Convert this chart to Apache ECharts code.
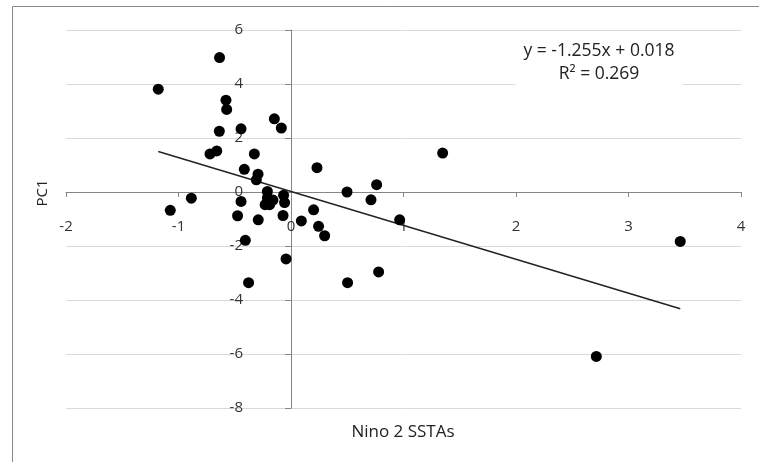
<!DOCTYPE html>
<html>
<head>
<meta charset="utf-8">
<script src="https://cdn.jsdelivr.net/npm/echarts@6/dist/echarts.min.js"></script>
<style>
  html, body { margin: 0; padding: 0; background: #fff; }
  #chart { width: 759px; height: 462px; }
</style>
</head>
<body>
<div id="chart"></div>
<script>
// Nino 2 SST anomalies against the first principal component
const ninoSSTA = [
  -1.18, -0.635, -0.578, -0.572, -0.148, -0.086, -0.444, -0.637, -0.72, -0.66,
  -0.326, -0.415, -0.293, -0.308, -0.886, -1.073, -0.444, -0.475, -0.291,
  -0.21, -0.21, -0.23, -0.19, -0.16,
  -0.066, -0.057, -0.071, -0.406, -0.044, -0.377,
  0.092, 0.201, 0.245, 0.299, 0.231, 0.498, 0.761, 0.711, 0.966, 1.348,
  0.779, 0.503, 3.46, 2.714
];
const pc1 = [
  3.81, 4.98, 3.40, 3.06, 2.71, 2.37, 2.34, 2.25, 1.41, 1.52,
  1.41, 0.84, 0.66, 0.45, -0.23, -0.68, -0.35, -0.88, -1.03,
  0.02, -0.22, -0.47, -0.47, -0.30,
  -0.12, -0.39, -0.87, -1.79, -2.48, -3.36,
  -1.07, -0.66, -1.27, -1.62, 0.90, 0.00, 0.27, -0.29, -1.03, 1.44,
  -2.96, -3.36, -1.83, -6.09
];

// Least-squares fit reported on the chart
const fitSlope = -1.255;
const fitIntercept = 0.018;
const fitR2 = 0.269;

const xTicks = [-2, 4, 1];   // min, max, interval
const yTicks = [-8, 6, 2];

const points = ninoSSTA.map((x, i) => [x, pc1[i]]);
const xLo = Math.min(...ninoSSTA);
const xHi = Math.max(...ninoSSTA);
const trend = [[xLo, fitSlope * xLo + fitIntercept], [xHi, fitSlope * xHi + fitIntercept]];

// plot box
const G = { left: 66, top: 30, width: 675, height: 378 };
// shift each axis from the plot edge to the zero line of the other axis
const xAxisOffset = -G.height * (0 - yTicks[0]) / (yTicks[1] - yTicks[0]);
const yAxisOffset = -G.width * (0 - xTicks[0]) / (xTicks[1] - xTicks[0]);

const font = '"Open Sans", "Noto Sans", sans-serif';
const chart = echarts.init(document.getElementById('chart'), null, { renderer: 'canvas' });

chart.setOption({
  backgroundColor: '#fff',
  animation: false,
  grid: Object.assign({ containLabel: false }, G),
  xAxis: {
    type: 'value',
    min: xTicks[0], max: xTicks[1], interval: xTicks[2],
    position: 'bottom',
    offset: xAxisOffset,
    axisLine: { onZero: false, lineStyle: { color: '#868686', width: 1 } },
    axisTick: { show: true, length: 5, inside: false, lineStyle: { color: '#868686' } },
    axisLabel: { margin: 27, color: '#333', fontSize: 15, fontFamily: font },
    splitLine: { show: false }
  },
  yAxis: {
    type: 'value',
    min: yTicks[0], max: yTicks[1], interval: yTicks[2],
    position: 'left',
    offset: yAxisOffset,
    axisLine: { onZero: false, lineStyle: { color: '#868686', width: 1 } },
    axisTick: { show: true, length: 6, lineStyle: { color: '#868686' } },
    axisLabel: { margin: 48, color: '#333', fontSize: 15, fontFamily: font },
    splitLine: { show: true, lineStyle: { color: '#d9d9d9', width: 1 } }
  },
  series: [
    {
      type: 'line',
      data: trend,
      symbol: 'none',
      lineStyle: { color: '#222', width: 1.4 },
      z: 3
    },
    {
      type: 'scatter',
      data: points,
      symbol: 'circle',
      symbolSize: 11,
      itemStyle: { color: '#000', opacity: 1 },
      z: 4
    }
  ],
  graphic: [
    {
      type: 'rect',
      shape: { x: 12.5, y: 6.5, width: 900, height: 600 },
      style: { fill: 'none', stroke: '#888', lineWidth: 1 },
      silent: true, z: 0
    },
    {
      type: 'text',
      x: 599, y: 63,
      style: {
        text: 'y = ' + fitSlope.toFixed(3) + 'x + ' + fitIntercept.toFixed(3) + '\nR² = ' + fitR2.toFixed(3),
        fill: '#222', fontSize: 17.5, fontFamily: font,
        align: 'center', verticalAlign: 'middle', lineHeight: 23,
        backgroundColor: '#fff', padding: [2, 8, 3, 8]
      },
      z: 10
    },
    {
      type: 'text',
      x: 43, y: 193, rotation: Math.PI / 2,
      style: { text: 'PC1', fill: '#222', fontSize: 15, fontFamily: font, align: 'center', verticalAlign: 'middle' },
      z: 10
    },
    {
      type: 'text',
      x: 403, y: 432,
      style: { text: 'Nino 2 SSTAs', fill: '#222', fontSize: 17, fontFamily: font, align: 'center', verticalAlign: 'middle' },
      z: 10
    }
  ]
});
</script>
</body>
</html>
